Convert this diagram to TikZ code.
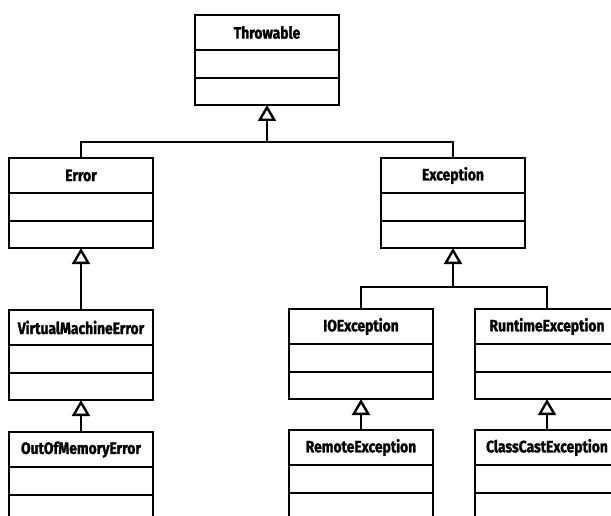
\documentclass[tikz,border=0pt]{standalone}
\usepackage{fontspec}
\setmainfont{Fira Sans}[FakeStretch=0.84, BoldFeatures={FakeBold=1.4}]
\usetikzlibrary{arrows.meta}
\tikzset{
  clsbox/.style={draw, line width=2.4pt, minimum width=144pt, minimum height=90pt, inner sep=0pt, outer sep=0pt},
  clstitle/.style={font=\bfseries\fontsize{16.5}{18}\selectfont, inner sep=0pt},
  clsline/.style={line width=2.4pt},
  conn/.style={line width=2.4pt},
  inherit/.style={conn, -{Triangle[open, length=16pt, width=18pt, line width=2.4pt]}}
}
% one UML class: name, centre x, top y, label
\newcommand{\umlclass}[4]{%
  \node[clsbox, anchor=north] (#1) at (#2,#3) {};
  \node[clstitle] (#1-t) at ([yshift=-17.5pt]#1.north) {#4};
  \draw[clsline] ([yshift=-35pt]#1.north west) -- ([yshift=-35pt]#1.north east);
  \draw[clsline] ([yshift=-63pt]#1.north west) -- ([yshift=-63pt]#1.north east);
}
\begin{document}
\begin{tikzpicture}[x=1pt, y=1pt]
  \useasboundingbox (0,0) rectangle (611,-516);
  \fill[white] (0,0) rectangle (611,-516);
  \clip (0,0) rectangle (611,-516);

  \umlclass{thr}{267}{-15}{Throwable}
  \umlclass{err}{81}{-158}{Error}
  \umlclass{exc}{453}{-158}{Exception}
  \umlclass{vme}{81}{-310}{VirtualMachineError}
  \umlclass{ioe}{361}{-309}{IOException}
  \umlclass{rte}{547}{-309}{RuntimeException}
  \umlclass{oom}{81}{-432}{OutOfMemoryError}
  \umlclass{rme}{361}{-430}{RemoteException}
  \umlclass{cce}{547}{-430}{ClassCastException}

  % junction points of the shared generalisation bars
  \coordinate (j1) at (thr.south |- 0,-142);
  \coordinate (j2) at (exc.south |- 0,-287);

  \draw[conn] (err.north) |- (j1) -| (exc.north);
  \draw[inherit] (j1) -- (thr.south);

  \draw[conn] (ioe.north) |- (j2) -| (rte.north);
  \draw[inherit] (j2) -- (exc.south);

  \draw[inherit] (vme.north) -- (err.south);
  \draw[inherit] (oom.north) -- (vme.south);
  \draw[inherit] (rme.north) -- (ioe.south);
  \draw[inherit] (cce.north) -- (rte.south);
\end{tikzpicture}
\end{document}
